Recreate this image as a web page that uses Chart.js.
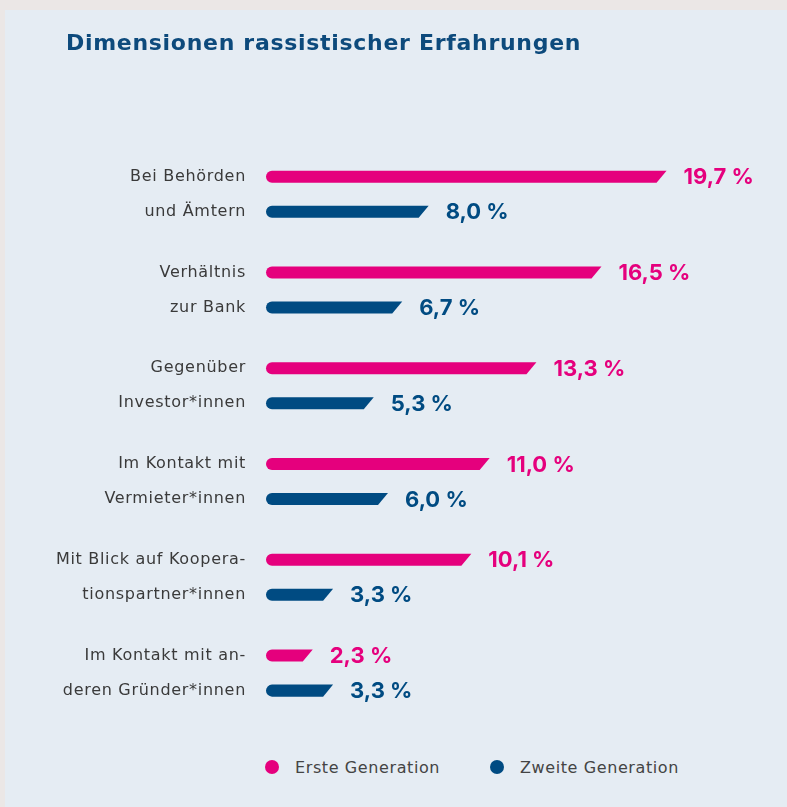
<!DOCTYPE html>
<html>
<head>
<meta charset="utf-8">
<script src="https://cdn.jsdelivr.net/npm/chart.js@4/dist/chart.umd.min.js"></script>
<style>
  html, body { margin: 0; padding: 0; background: #ebe7e6; }
  #panel { position: absolute; left: 5px; top: 10px; width: 782px; height: 797px; background: #e5ecf3; }
  #wrap { position: absolute; left: 0; top: 0; width: 782px; height: 730px; }
  #legend { position: absolute; top: 747px; left: 0; width: 782px; height: 20px; font: 16px "DejaVu Sans", sans-serif; letter-spacing: 0.6px; color: #444; }
  .item { position: absolute; top: 0; display: flex; align-items: center; height: 20px; }
  .dot { width: 14px; height: 14px; border-radius: 50%; margin-right: 16px; }
</style>
</head>
<body>
<div id="panel">
  <div id="wrap"><canvas id="chart"></canvas></div>
  <div id="legend"></div>
</div>
<script>
// Dimensionen rassistischer Erfahrungen
var categories = [
  ["Bei Behörden", "und Ämtern"],
  ["Verhältnis", "zur Bank"],
  ["Gegenüber", "Investor*innen"],
  ["Im Kontakt mit", "Vermieter*innen"],
  ["Mit Blick auf Koopera-", "tionspartner*innen"],
  ["Im Kontakt mit an-", "deren Gründer*innen"]
];
var seriesNames = ["Erste Generation", "Zweite Generation"];
var ersteGen = [19.7, 16.5, 13.3, 11.0, 10.1, 2.3];
var zweiteGen = [8.0, 6.7, 5.3, 6.0, 3.3, 3.3];
var colors = ["#e5007d", "#004b82"];

function fmt(v) {
  return v.toFixed(1).replace(".", ",") + " %";
}

// wider text spacing for axis labels and title (the original font is wide),
// and the title indented a little past the axis labels
var spacing = {
  id: "spacing",
  afterLayout: function (chart) {
    if (chart.titleBlock) {
      chart.titleBlock.left += 21;
      chart.titleBlock.right += 21;
    }
  },
  beforeDraw: function (chart) { chart.ctx.letterSpacing = "0.7px"; }
};

// bars with a round left cap and a slanted right end, plus value labels
var slantBars = {
  id: "slantBars",
  beforeDatasetDraw: function (chart, args) {
    var ctx = chart.ctx;
    var meta = args.meta;
    var col = chart.data.datasets[args.index].backgroundColor;
    ctx.save();
    ctx.fillStyle = col;
    meta.data.forEach(function (bar) {
      var p = bar.getProps(["x", "y", "base", "height"], true);
      var h = p.height, r = h / 2;
      var top = p.y - r, bottom = p.y + r;
      var slant = Math.min(10, p.x - p.base - r);
      ctx.beginPath();
      ctx.moveTo(p.base + r, top);
      ctx.lineTo(p.x, top);
      ctx.lineTo(p.x - slant, bottom);
      ctx.lineTo(p.base + r, bottom);
      ctx.arc(p.base + r, p.y, r, Math.PI / 2, Math.PI * 1.5);
      ctx.closePath();
      ctx.fill();
    });
    ctx.restore();
    return false;
  },
  afterDatasetsDraw: function (chart) {
    var ctx = chart.ctx;
    ctx.save();
    ctx.letterSpacing = "0px";
    ctx.font = "bold 22px Inter, sans-serif";
    ctx.textBaseline = "middle";
    ctx.textAlign = "left";
    chart.data.datasets.forEach(function (ds, i) {
      ctx.fillStyle = ds.backgroundColor;
      chart.getDatasetMeta(i).data.forEach(function (bar, j) {
        ctx.fillText(fmt(ds.data[j]), bar.x + 17, bar.y + 1);
      });
    });
    ctx.restore();
  }
};

var ctx = document.getElementById("chart");
var chart = new Chart(ctx, {
  type: "bar",
  data: {
    labels: categories,
    datasets: [
      { label: seriesNames[0], data: ersteGen, backgroundColor: colors[0] },
      { label: seriesNames[1], data: zweiteGen, backgroundColor: colors[1] }
    ]
  },
  options: {
    indexAxis: "y",
    responsive: true,
    maintainAspectRatio: false,
    animation: false,
    categoryPercentage: 70 / 95.7,
    barPercentage: 12 / 35,
    layout: { padding: { left: 40, right: 33, top: 0, bottom: 19 } },
    plugins: {
      legend: { display: false },
      tooltip: { enabled: false },
      title: {
        display: true,
        text: "Dimensionen rassistischer Erfahrungen",
        align: "start",
        color: "#0d4a7c",
        font: { family: "'DejaVu Sans', sans-serif", size: 22, weight: "bold", lineHeight: 1.2 },
        padding: { top: 21, bottom: 89 }
      }
    },
    scales: {
      x: { display: false, min: 0, max: 24 },
      y: {
        grid: { display: false, drawTicks: false },
        border: { display: false },
        afterFit: function (scale) {
          scale.width = 221;
          scale.paddingTop = 0;
          scale.paddingBottom = 0;
        },
        ticks: {
          padding: 20,
          color: "#3a3a3a",
          font: { family: "'DejaVu Sans', sans-serif", size: 16, lineHeight: "35px" }
        }
      }
    }
  },
  plugins: [spacing, slantBars]
});

// legend below the chart
var legend = document.getElementById("legend");
var legendX = [260, 485];
seriesNames.forEach(function (name, i) {
  var item = document.createElement("div");
  item.className = "item";
  item.style.left = legendX[i] + "px";
  var dot = document.createElement("span");
  dot.className = "dot";
  dot.style.background = colors[i];
  item.appendChild(dot);
  item.appendChild(document.createTextNode(name));
  legend.appendChild(item);
});
</script>
</body>
</html>
